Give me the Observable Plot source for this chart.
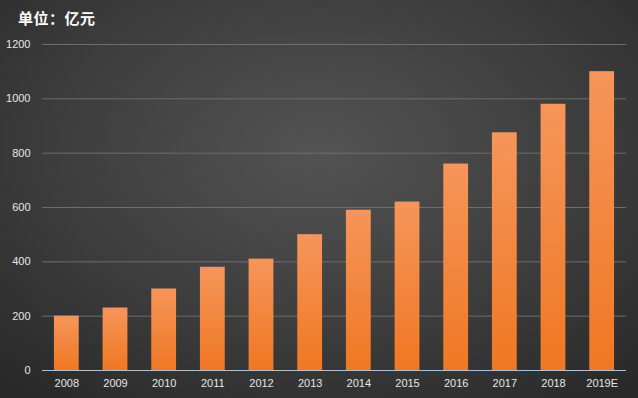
<!DOCTYPE html>
<html>
<head>
<meta charset="utf-8">
<script src="https://cdn.jsdelivr.net/npm/d3@7"></script>
<script src="https://cdn.jsdelivr.net/npm/@observablehq/plot@0.6"></script>
<style>
  html, body { margin: 0; padding: 0; }
  #wrap {
    position: relative; width: 638px; height: 398px; overflow: hidden;
    background: radial-gradient(ellipse 75% 80% at 50% 38%, #535353 0%, #3d3d3d 55%, #282828 100%);
    font-family: "Noto Sans CJK SC", "Liberation Sans", sans-serif;
  }
  #title {
    position: absolute; left: 18px; top: 7px; color: #ffffff;
    font-size: 15px; font-weight: bold; letter-spacing: 0.5px;
  }
  #chart { position: absolute; left: 0; top: 0; }
</style>
</head>
<body>
<div id="wrap">
  <div id="title">单位：亿元</div>
  <div id="chart"></div>
</div>
<script>
const years = ["2008","2009","2010","2011","2012","2013","2014","2015","2016","2017","2018","2019E"];
const values = [200, 230, 300, 380, 410, 500, 590, 620, 760, 875, 980, 1100];
const yTicks = [0, 200, 400, 600, 800, 1000, 1200];

const data = years.map((y, i) => ({year: y, value: values[i]}));

const defs = () => {
  const g = d3.create("svg:defs");
  const lg = g.append("linearGradient").attr("id", "barGrad")
    .attr("x1", 0).attr("y1", 0).attr("x2", 0).attr("y2", 1);
  lg.append("stop").attr("offset", "0%").attr("stop-color", "#f6955a");
  lg.append("stop").attr("offset", "100%").attr("stop-color", "#ef7823");
  return g.node();
};

const chart = Plot.plot({
  width: 638,
  height: 398,
  marginLeft: 42,
  marginRight: 12,
  marginTop: 44,
  marginBottom: 28,
  style: {background: "transparent", color: "#e6e6e6", fontSize: "11px", fontFamily: "'Liberation Sans', 'DejaVu Sans', sans-serif"},
  x: {domain: years, paddingInner: 0.49, paddingOuter: 0.245, round: false, label: null},
  y: {domain: [0, 1200], label: null},
  marks: [
    defs,
    Plot.gridY(yTicks.filter(d => d > 0), {stroke: "#6e6e6e", strokeOpacity: 1}),
    Plot.barY(data, {x: "year", y: "value", fill: "url(#barGrad)"}),
    Plot.ruleY([0], {stroke: "#b8bfc8", strokeWidth: 1.2}),
    Plot.axisY({ticks: yTicks, tickFormat: d3.format("d"), tickSize: 0, tickPadding: 12, fill: "#e6e6e6", fontSize: 11}),
    Plot.axisX({tickSize: 0, tickPadding: 9, fill: "#e6e6e6", fontSize: 11})
  ]
});
document.getElementById("chart").appendChild(chart);
</script>
</body>
</html>
